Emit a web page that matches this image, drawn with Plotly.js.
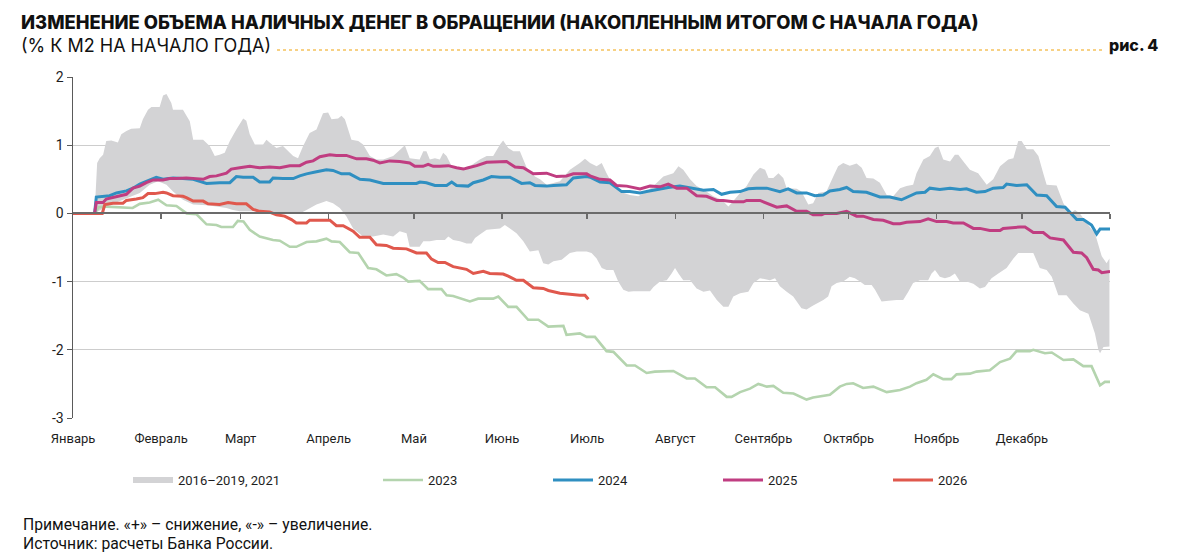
<!DOCTYPE html>
<html>
<head>
<meta charset="utf-8">
<script src="https://cdn.plot.ly/plotly-3.0.1.min.js"></script>
<style>
  html, body { margin: 0; padding: 0; background: #ffffff; }
  #chart { width: 1200px; height: 559px; }
</style>
</head>
<body>
<div id="chart"></div>
<script>
// ---- Data (x = day of year, y = % к М2 на начало года) ----
const months = ['Январь','Февраль','Март','Апрель','Май','Июнь','Июль','Август','Сентябрь','Октябрь','Ноябрь','Декабрь'];
const monthStartDays = [0,31,59,90,120,151,181,212,243,273,304,334];
const yearEndDay = 365;

const seriesNames = ['2016–2019, 2021','2023','2024','2025','2026'];

// Range band (2016–2019, 2021): upper and lower envelopes [day, value]
const bandUpper = [[7.6,0],[8.5,0.74],[9.4,0.81],[10.6,0.86],[11.7,1.06],[13.5,1.07],[15.8,1.04],[17,1.16],[18.8,1.21],[20.5,1.24],[23.5,1.25],[24.6,1.38],[26.4,1.52],[27.6,1.56],[30.5,1.56],[31.7,1.73],[32.9,1.75],[34.6,1.62],[35.2,1.52],[38.7,1.52],[41.1,1.35],[42.3,1.08],[45.8,1.08],[48.1,0.99],[49.9,0.84],[51.6,0.86],[53.4,0.89],[55.2,1.06],[57.5,1.23],[59.9,1.39],[61,1.36],[62.2,1.16],[64,1.01],[66.9,1.01],[68.1,1.08],[69.2,1.04],[71.6,0.96],[73.9,0.99],[77.5,0.84],[79.2,0.81],[81,0.99],[83.3,1.18],[85.7,1.23],[88,1.47],[89.8,1.48],[91,1.38],[93.3,1.39],[94.5,1.43],[95.7,1.38],[98,1.08],[100.4,1.06],[102.1,1.01],[104.5,0.84],[106.8,0.79],[109.2,0.79],[112.7,0.84],[115.6,0.95],[116.8,1.0],[118.5,0.81],[122,0.79],[123.3,0.91],[124.4,0.91],[125.6,0.79],[127.4,0.81],[129.1,0.79],[130.3,0.89],[131.5,0.84],[133.3,0.69],[137.4,0.64],[139.7,0.69],[143.2,0.79],[145.6,0.84],[147.9,0.84],[150.3,1.01],[151.4,1.07],[153.2,0.96],[155,0.91],[157.3,0.91],[158.5,0.79],[159.7,0.67],[162.6,0.54],[164.4,0.50],[166.7,0.42],[171.4,0.47],[174.9,0.64],[178.4,0.74],[180.2,0.80],[182,0.74],[184.3,0.69],[186.1,0.74],[187.8,0.59],[190.2,0.40],[193.1,0.31],[196,0.27],[199,0.25],[201.9,0.32],[204.3,0.40],[207.8,0.54],[211.3,0.59],[213.1,0.69],[214.8,0.64],[217.2,0.50],[219.5,0.40],[221.9,0.35],[225.4,0.25],[228.3,0.20],[230.7,0.10],[232.4,0.18],[234.8,0.30],[237.1,0.40],[239.5,0.57],[241.8,0.67],[243.6,0.64],[244.8,0.52],[246.5,0.52],[248.3,0.59],[250,0.52],[251.2,0.37],[254.7,0.36],[256.4,0.32],[258.8,0.13],[260.5,0.15],[262.3,0.30],[265.2,0.32],[267.6,0.54],[269.3,0.69],[271.1,0.74],[273.4,0.70],[275.8,0.73],[277.6,0.67],[279.3,0.52],[281.7,0.51],[284,0.45],[286.4,0.27],[288.7,0.25],[291.1,0.37],[293.4,0.40],[295.7,0.42],[296.9,0.59],[299.3,0.79],[301.6,0.84],[303.4,0.96],[304.6,0.98],[306.3,0.79],[308.7,0.76],[310.4,0.86],[311.6,0.86],[313.4,0.76],[315.7,0.64],[318.6,0.59],[321.6,0.42],[323.9,0.50],[326.3,0.69],[329.2,0.79],[331,0.81],[332.7,1.06],[333.9,1.06],[335.7,0.94],[338,0.94],[339.8,0.84],[341.5,0.59],[342.7,0.42],[346.2,0.41],[348.6,0.15],[350.9,0.0],[352.7,0.05],[354.4,0.0],[356.8,-0.14],[359.7,-0.29],[362.1,-0.63],[363.8,-0.73],[364.8,-0.66]];
const bandLower = [[7.6,0],[11.7,0.10],[23.5,0.30],[27,0.42],[29.9,0.47],[32.9,0.42],[35.2,0.32],[38.7,0.20],[42.3,0.13],[47,0.12],[50.5,0.10],[54,0.08],[56.3,0.05],[58.7,0.03],[65.7,0.03],[70.4,0.01],[75.1,0.0],[79.8,0.0],[82.2,0.05],[85.7,0.13],[89.2,0.18],[91.5,0.15],[93.9,0.08],[96.2,-0.04],[98.6,-0.22],[102.1,-0.34],[105.6,-0.34],[109.2,-0.31],[112.7,-0.34],[115,-0.26],[117.4,-0.29],[118.5,-0.49],[122,-0.49],[123.3,-0.41],[125.6,-0.41],[128,-0.39],[130.9,-0.39],[132.1,-0.34],[133.8,-0.39],[136.2,-0.41],[138.5,-0.44],[140.3,-0.44],[141.5,-0.36],[143.2,-0.31],[145.6,-0.24],[150.3,-0.22],[152,-0.17],[153.8,-0.22],[156.1,-0.29],[158.5,-0.41],[160.8,-0.56],[163.8,-0.54],[165.5,-0.73],[167.3,-0.75],[169.1,-0.70],[172,-0.68],[174.9,-0.58],[177.3,-0.56],[180.8,-0.56],[182.5,-0.58],[184.3,-0.66],[186.1,-0.80],[187.8,-0.83],[190.2,-0.83],[191.9,-1.0],[193.7,-1.12],[195.5,-1.15],[197.2,-1.14],[203.1,-1.14],[204.3,-1.08],[206.6,-1.0],[209,-0.98],[210.7,-0.88],[211.9,-0.80],[213.1,-0.88],[214.8,-0.98],[217.2,-0.98],[219.5,-1.10],[221.9,-1.15],[224.2,-1.13],[226.6,-1.27],[228.9,-1.37],[230.7,-1.37],[232.4,-1.22],[234.8,-1.17],[237.7,-1.15],[239.5,-1.02],[241.8,-0.95],[245.3,-0.98],[247.1,-0.95],[248.8,-1.07],[251.2,-1.15],[253.5,-1.22],[256.4,-1.39],[258.2,-1.41],[260.5,-1.35],[264.1,-1.27],[265.8,-1.22],[267,-1.07],[268.8,-1.02],[271.1,-1.0],[273.4,-0.93],[275.2,-0.95],[277,-1.0],[278.7,-1.05],[281.1,-1.05],[282.3,-1.12],[284.6,-1.29],[287,-1.28],[289.9,-1.27],[292.2,-1.27],[294,-1.15],[295.7,-1.02],[298.1,-0.98],[301,-0.98],[302.2,-0.88],[303.4,-0.83],[305.1,-0.93],[306.9,-0.95],[308.7,-0.93],[310.4,-0.88],[312.2,-1.0],[314.5,-1.0],[316.9,-1.03],[319.2,-1.10],[321,-1.08],[323.3,-0.95],[325.7,-0.88],[328.6,-0.80],[331,-0.66],[332.7,-0.58],[338,-0.58],[340.3,-0.80],[342.7,-0.83],[344.5,-0.93],[346.8,-1.2],[349.7,-1.2],[352.1,-1.32],[354.4,-1.42],[357.4,-1.47],[359.7,-1.76],[360.9,-2.0],[361.5,-2.05],[362.7,-1.96],[364.8,-1.95]];

const s2023 = [[0,0],[7.6,0],[9,0.09],[11.7,0.10],[21,0.08],[23.5,0.14],[27,0.16],[30,0.20],[32.9,0.12],[36.4,0.11],[40,0.00],[43.4,-0.01],[47,-0.16],[50.5,-0.17],[52.2,-0.20],[56.3,-0.20],[58,-0.11],[60,-0.12],[62.2,-0.24],[65.7,-0.34],[70.4,-0.39],[72.8,-0.40],[76.3,-0.49],[78.6,-0.49],[82.2,-0.42],[85.7,-0.41],[89.2,-0.37],[91,-0.41],[93.9,-0.42],[97.4,-0.57],[100.4,-0.58],[103.9,-0.80],[106.8,-0.82],[110.3,-0.91],[113.8,-0.89],[116.2,-0.94],[118,-1.00],[122,-0.99],[125,-1.11],[129.7,-1.11],[131.5,-1.20],[133.8,-1.21],[139.7,-1.29],[142.6,-1.25],[147.9,-1.25],[149.7,-1.22],[153.2,-1.37],[156.1,-1.37],[160.2,-1.56],[163.8,-1.56],[167.3,-1.66],[172.6,-1.65],[173.7,-1.78],[178.4,-1.76],[180.8,-1.81],[183.7,-1.81],[187.8,-2.02],[190.2,-2.03],[194.9,-2.23],[197.8,-2.23],[201.9,-2.34],[204.8,-2.32],[211.3,-2.31],[216,-2.42],[218.9,-2.42],[223,-2.55],[226,-2.55],[230.1,-2.69],[231.8,-2.69],[234.8,-2.62],[238.3,-2.57],[241.2,-2.50],[244.2,-2.54],[246.5,-2.53],[250,-2.63],[253.6,-2.64],[258.2,-2.73],[260.5,-2.70],[266.4,-2.66],[269.9,-2.54],[272.3,-2.50],[274.6,-2.49],[278.1,-2.56],[281.7,-2.54],[286.4,-2.62],[291.1,-2.59],[294.6,-2.54],[296.9,-2.49],[300.4,-2.44],[302.8,-2.36],[306.3,-2.43],[309.2,-2.43],[311,-2.36],[315.7,-2.35],[318,-2.32],[322.7,-2.30],[326.3,-2.18],[329.8,-2.13],[332.1,-2.02],[336.8,-2.02],[338,-2.00],[342.1,-2.05],[344.5,-2.04],[348.6,-2.15],[352.1,-2.14],[355.6,-2.24],[358.5,-2.24],[361.5,-2.52],[363.2,-2.47],[365,-2.47]];

const s2024 = [[0,0],[7.6,0],[8.2,0.24],[12.9,0.26],[15.3,0.30],[18.8,0.33],[21.1,0.37],[23.5,0.43],[25.8,0.47],[29.3,0.53],[31.7,0.50],[35.2,0.52],[38.7,0.51],[42.3,0.50],[44.6,0.47],[47,0.44],[51.6,0.45],[55.2,0.45],[57.5,0.54],[59.9,0.53],[63.4,0.53],[65.7,0.46],[69.2,0.46],[70.4,0.52],[73.9,0.51],[77.5,0.51],[79.8,0.55],[82.2,0.58],[85.7,0.61],[89.2,0.64],[91.5,0.63],[94.5,0.58],[97.4,0.58],[101,0.50],[104.5,0.49],[109.2,0.44],[112.7,0.44],[115,0.44],[120.9,0.44],[122.1,0.46],[124.4,0.45],[127.4,0.41],[131.5,0.41],[133.3,0.46],[135,0.41],[139.1,0.40],[140.9,0.45],[144.4,0.49],[147.3,0.54],[150.3,0.53],[153.8,0.53],[157.9,0.44],[160.8,0.45],[162.6,0.41],[166.7,0.40],[169.1,0.41],[173.7,0.42],[176.1,0.52],[180.8,0.54],[182,0.53],[185.5,0.46],[189,0.45],[193.1,0.32],[196,0.32],[199.6,0.30],[201.9,0.32],[206.6,0.36],[209.5,0.38],[213.6,0.40],[217.2,0.37],[221.9,0.34],[225.4,0.35],[228.3,0.28],[231.3,0.31],[234.8,0.32],[237.7,0.36],[240.6,0.37],[244.2,0.37],[246.5,0.34],[248.8,0.32],[251.7,0.36],[254.7,0.30],[258.2,0.30],[261.1,0.26],[264.1,0.27],[266.4,0.33],[269.9,0.35],[272.3,0.38],[274.6,0.32],[279.3,0.31],[284,0.24],[287.5,0.24],[291.6,0.20],[294,0.25],[296.9,0.30],[299.9,0.31],[301.6,0.37],[305.1,0.35],[308.7,0.37],[312.2,0.35],[314.5,0.36],[318,0.31],[321,0.32],[323.9,0.37],[327.4,0.38],[328.6,0.43],[332.1,0.41],[335.7,0.42],[339.2,0.27],[342.7,0.26],[346.2,0.10],[349.2,0.09],[353.3,-0.09],[355.6,-0.09],[358.5,-0.17],[360.3,-0.30],[361.5,-0.23],[365,-0.23]];

const s2025 = [[0,0],[7.6,0],[8.2,0.16],[10.6,0.16],[11.7,0.21],[15.3,0.25],[18.8,0.28],[21.1,0.37],[23.5,0.40],[25.8,0.45],[28.2,0.49],[31.7,0.49],[34,0.51],[36.4,0.51],[39.9,0.52],[43.4,0.51],[45.8,0.50],[48.1,0.54],[50.5,0.55],[54,0.59],[55.7,0.65],[58.7,0.67],[62.2,0.69],[65.7,0.67],[69.2,0.68],[72.8,0.67],[76.3,0.70],[79.8,0.70],[82.2,0.75],[84.5,0.77],[86.9,0.83],[90.4,0.86],[92.7,0.85],[96.2,0.85],[99.8,0.80],[103.3,0.80],[105.6,0.78],[108,0.74],[111.5,0.77],[115,0.76],[118.5,0.74],[120.3,0.69],[123.2,0.69],[125,0.72],[126.8,0.69],[129.1,0.69],[132.1,0.70],[135,0.67],[137.4,0.65],[139.1,0.67],[142.1,0.70],[145.6,0.75],[150.3,0.76],[152.6,0.76],[155.6,0.68],[158.5,0.67],[162,0.58],[165.5,0.58],[166.7,0.59],[170.2,0.54],[173.7,0.55],[176.1,0.58],[180.8,0.58],[182,0.55],[185.5,0.50],[189,0.49],[191.3,0.41],[194.9,0.40],[199.6,0.36],[203.1,0.40],[206.6,0.39],[209.5,0.43],[212.5,0.37],[216,0.37],[219.5,0.26],[223,0.25],[226.6,0.19],[228.9,0.19],[232.4,0.17],[236,0.17],[237.1,0.19],[241.8,0.19],[244.2,0.15],[247.7,0.09],[251.2,0.11],[254.7,0.03],[258.2,0.03],[260.5,-0.02],[263.5,-0.02],[264.6,0.0],[268.8,0.0],[272.3,0.03],[275.8,-0.04],[278.1,-0.04],[281.7,-0.09],[285.2,-0.10],[288.7,-0.15],[291.1,-0.15],[293.4,-0.13],[298.1,-0.12],[301,-0.08],[304,-0.12],[307.5,-0.12],[309.8,-0.14],[313.4,-0.14],[316.9,-0.22],[319.2,-0.22],[322.7,-0.25],[326.3,-0.25],[327.4,-0.22],[333.3,-0.20],[335.1,-0.20],[338,-0.28],[341.5,-0.28],[343.9,-0.36],[348.6,-0.39],[352.1,-0.57],[355,-0.58],[356.8,-0.65],[359.1,-0.82],[360.9,-0.83],[362.1,-0.87],[365,-0.85]];

const s2026 = [[0,0],[10.3,0],[11.2,0.13],[14.1,0.15],[17.6,0.15],[18.8,0.19],[22.3,0.21],[24.6,0.23],[26.4,0.29],[28.8,0.29],[31.7,0.31],[32.9,0.30],[35.2,0.26],[38.7,0.25],[39.9,0.23],[42.3,0.18],[45.8,0.18],[47.5,0.14],[51.6,0.13],[54.6,0.16],[57.5,0.14],[61,0.14],[63.4,0.06],[65.7,0.03],[69.2,0.02],[71.6,-0.02],[74.5,-0.04],[76.9,-0.09],[78.6,-0.14],[82.2,-0.14],[83.3,-0.10],[85.7,-0.10],[90.4,-0.10],[92.7,-0.18],[95.1,-0.18],[98.6,-0.26],[100.9,-0.35],[104.5,-0.35],[106.8,-0.46],[110.3,-0.47],[112.7,-0.51],[117.4,-0.52],[120.9,-0.58],[124.4,-0.58],[126.2,-0.67],[128.5,-0.72],[130.9,-0.72],[133.8,-0.78],[138.5,-0.82],[140.9,-0.88],[144.4,-0.85],[146.7,-0.88],[151.4,-0.89],[153.2,-0.92],[156.1,-0.98],[158.5,-0.98],[162,-1.09],[165.5,-1.10],[167.3,-1.13],[171.4,-1.17],[174.9,-1.19],[178.4,-1.20],[180.2,-1.20],[181.4,-1.26]];

const colors = { band: '#d3d3d5', y2023: '#b4d4ae', y2024: '#2f8fc1', y2025: '#c03d81', y2026: '#e0584d' };

// ---- Geometry helpers (pixel -> paper) ----
const W = 1200, H = 559;
const M = { l: 73, r: 90, t: 77, b: 141 };
const PW = W - M.l - M.r, PH = H - M.t - M.b;
const px2x = p => (p - M.l) / PW;
const px2y = p => (H - M.b - p) / PH;

const xs = a => a.map(p => p[0]);
const ys = a => a.map(p => p[1]);

const bandPoly = bandUpper.concat(bandLower.slice().reverse());

const traces = [
  { x: xs(bandPoly), y: ys(bandPoly), name: seriesNames[0], type: 'scatter', mode: 'none',
    fill: 'toself', fillcolor: colors.band, hoverinfo: 'skip', legend: 'legend' },
  { x: xs(s2023), y: ys(s2023), name: seriesNames[1], type: 'scatter', mode: 'lines',
    line: { color: colors.y2023, width: 2.6 }, legend: 'legend2' },
  { x: xs(s2024), y: ys(s2024), name: seriesNames[2], type: 'scatter', mode: 'lines',
    line: { color: colors.y2024, width: 3 }, legend: 'legend2' },
  { x: xs(s2025), y: ys(s2025), name: seriesNames[3], type: 'scatter', mode: 'lines',
    line: { color: colors.y2025, width: 3 }, legend: 'legend2' },
  { x: xs(s2026), y: ys(s2026), name: seriesNames[4], type: 'scatter', mode: 'lines',
    line: { color: colors.y2026, width: 3 }, legend: 'legend2' },
  // carrier for the zero-line axis with month ticks
  { x: monthStartDays, y: monthStartDays.map(() => 0), xaxis: 'x2', yaxis: 'y', type: 'scatter',
    mode: 'markers', marker: { opacity: 0 }, showlegend: false, hoverinfo: 'skip' }
];

const baseFont = 'Roboto, "Noto Sans", Arial, sans-serif';
const textColor = '#1e1e1e';
const legendCommon = {
  orientation: 'h', xanchor: 'left', yanchor: 'top', itemwidth: 40,
  font: { size: 13, color: textColor, family: baseFont }, bgcolor: 'rgba(0,0,0,0)'
};

const layout = {
  width: W, height: H,
  margin: M,
  paper_bgcolor: '#ffffff', plot_bgcolor: '#ffffff',
  font: { family: baseFont, color: textColor, size: 13 },
  showlegend: true,
  hovermode: false,
  xaxis: {
    range: [0, yearEndDay], tickmode: 'array', tickvals: monthStartDays, ticktext: months,
    showgrid: false, zeroline: false, showline: false,
    ticks: 'outside', ticklen: 8, tickcolor: 'rgba(0,0,0,0)',
    tickfont: { size: 13, color: textColor, family: baseFont }, fixedrange: true
  },
  xaxis2: {
    overlaying: 'x', anchor: 'free', position: 0.6, side: 'bottom',
    range: [0, yearEndDay], tickmode: 'array', tickvals: monthStartDays.slice(1).concat([yearEndDay]),
    showticklabels: false, showgrid: false, zeroline: false,
    showline: true, linecolor: '#6b6b6b', linewidth: 2,
    ticks: 'outside', ticklen: 5, tickwidth: 1.5, tickcolor: '#6b6b6b'
  },
  yaxis: {
    range: [-3, 2], tickmode: 'array', tickvals: [-3, -2, -1, 0, 1, 2],
    ticktext: ['-3', '-2', '-1', '0', '1', '2'],
    showgrid: true, gridcolor: '#cdcdcd', gridwidth: 1, zeroline: false,
    showline: true, linecolor: '#5a5a5a', linewidth: 1.5,
    ticks: 'outside', ticklen: 5, tickcolor: '#5a5a5a',
    tickfont: { size: 14, color: textColor, family: baseFont }, fixedrange: true
  },
  legend: Object.assign({}, legendCommon, { x: px2x(128), y: px2y(465) }),
  legend2: Object.assign({}, legendCommon, { x: px2x(378), y: px2y(465),
    entrywidth: 115, entrywidthmode: 'pixels' }),
  shapes: [
    { type: 'line', xref: 'paper', yref: 'paper', x0: px2x(277), x1: px2x(1104), y0: px2y(50), y1: px2y(50),
      line: { color: '#f0a30a', width: 1, dash: 'dot' } }
  ],
  annotations: [
    { xref: 'paper', yref: 'paper', x: px2x(19), y: px2y(22), xanchor: 'left', yanchor: 'middle', showarrow: false,
      text: 'ИЗМЕНЕНИЕ ОБЪЕМА НАЛИЧНЫХ ДЕНЕГ В ОБРАЩЕНИИ (НАКОПЛЕННЫМ ИТОГОМ С НАЧАЛА ГОДА)',
      font: { family: 'Inter, "Noto Sans", sans-serif', size: 18.4, weight: 800, color: '#111' } },
    { xref: 'paper', yref: 'paper', x: px2x(19), y: px2y(45), xanchor: 'left', yanchor: 'middle', showarrow: false,
      text: '(% К М2 НА НАЧАЛО ГОДА)',
      font: { family: 'Inter, "Noto Sans", sans-serif', size: 18, color: '#111' } },
    { xref: 'paper', yref: 'paper', x: px2x(1160), y: px2y(45), xanchor: 'right', yanchor: 'middle', showarrow: false,
      text: 'рис. 4',
      font: { family: 'Inter, "Noto Sans", sans-serif', size: 16, weight: 800, color: '#111' } },
    { xref: 'paper', yref: 'paper', x: px2x(21), y: px2y(524), xanchor: 'left', yanchor: 'middle', showarrow: false,
      text: 'Примечание. «+» – снижение, «-» – увеличение.',
      font: { family: baseFont, size: 15.7, color: '#111' } },
    { xref: 'paper', yref: 'paper', x: px2x(21), y: px2y(543), xanchor: 'left', yanchor: 'middle', showarrow: false,
      text: 'Источник: расчеты Банка России.',
      font: { family: baseFont, size: 15.7, color: '#111' } }
  ]
};

Plotly.newPlot('chart', traces, layout, { displayModeBar: false, staticPlot: true });
</script>
</body>
</html>
